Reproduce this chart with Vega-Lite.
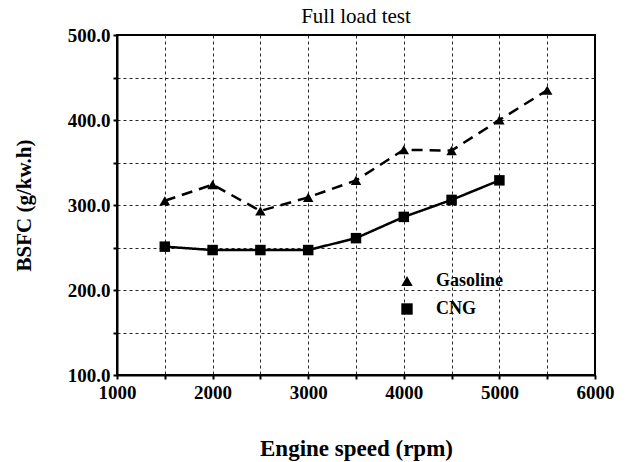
{
  "$schema": "https://vega.github.io/schema/vega-lite/v6.json",
  "autosize": "none",
  "width": 478,
  "height": 340,
  "padding": {"left": 117, "top": 35, "right": 36, "bottom": 87},
  "background": "white",
  "title": {"text": "Full load test", "font": "Liberation Serif", "fontSize": 21, "fontWeight": "normal", "color": "black", "anchor": "middle", "offset": -1},
  "config": {
    "view": {"stroke": "black", "strokeWidth": 2},
    "axis": {
      "domainColor": "black", "domainWidth": 2,
      "tickColor": "black", "tickWidth": 2, "tickSize": 4,
      "gridColor": "black", "gridDash": [3, 3], "gridWidth": 1, "gridOpacity": 0.85,
      "labelFont": "Liberation Serif", "labelFontSize": 19, "labelFontWeight": "bold", "labelColor": "black",
      "titleFont": "Liberation Serif", "titleFontWeight": "bold", "titleColor": "black",
      "labelOverlap": false, "labelFlush": false
    }
  },
  "data": {"values": [
    {"fuel": "Gasoline", "rpm": 1500, "bsfc": 305},
    {"fuel": "Gasoline", "rpm": 2000, "bsfc": 324},
    {"fuel": "Gasoline", "rpm": 2500, "bsfc": 293},
    {"fuel": "Gasoline", "rpm": 3000, "bsfc": 309},
    {"fuel": "Gasoline", "rpm": 3500, "bsfc": 329},
    {"fuel": "Gasoline", "rpm": 4000, "bsfc": 365},
    {"fuel": "Gasoline", "rpm": 4500, "bsfc": 364},
    {"fuel": "Gasoline", "rpm": 5000, "bsfc": 400},
    {"fuel": "Gasoline", "rpm": 5500, "bsfc": 435},
    {"fuel": "CNG", "rpm": 1500, "bsfc": 251},
    {"fuel": "CNG", "rpm": 2000, "bsfc": 247},
    {"fuel": "CNG", "rpm": 2500, "bsfc": 247},
    {"fuel": "CNG", "rpm": 3000, "bsfc": 247},
    {"fuel": "CNG", "rpm": 3500, "bsfc": 261},
    {"fuel": "CNG", "rpm": 4000, "bsfc": 286},
    {"fuel": "CNG", "rpm": 4500, "bsfc": 306},
    {"fuel": "CNG", "rpm": 5000, "bsfc": 329}
  ]},
  "encoding": {
    "x": {"field": "rpm", "type": "quantitative",
      "scale": {"domain": [1000, 6000], "nice": false},
      "axis": {"title": "Engine speed (rpm)", "titleFontSize": 23, "titlePadding": 35,
        "values": [1000, 1500, 2000, 2500, 3000, 3500, 4000, 4500, 5000, 5500, 6000],
        "labelExpr": "datum.value % 1000 === 0 ? format(datum.value, 'd') : ''", "labelPadding": 4}},
    "y": {"field": "bsfc", "type": "quantitative",
      "scale": {"domain": [100, 500], "nice": false, "zero": false},
      "axis": {"title": "BSFC (g/kw.h)", "titleFontSize": 21, "titlePadding": 33,
        "values": [100, 150, 200, 250, 300, 350, 400, 450, 500],
        "labelExpr": "datum.value % 100 === 0 ? format(datum.value, '.1f') : ''", "labelPadding": 3}}
  },
  "resolve": {"scale": {"shape": "independent"}, "legend": {"shape": "independent"}},
  "layer": [
    {
      "mark": {"type": "line", "color": "black", "strokeWidth": 2.5},
      "encoding": {
        "strokeDash": {"field": "fuel", "type": "nominal",
          "scale": {"domain": ["Gasoline", "CNG"], "range": [[11, 7], [1, 0]]}, "legend": null}
      }
    },
    {
      "mark": {"type": "point", "filled": true, "color": "black", "opacity": 1, "size": 110},
      "encoding": {
        "shape": {"field": "fuel", "type": "nominal",
          "scale": {"domain": ["Gasoline", "CNG"], "range": ["triangle-up", "square"]}, "legend": null}
      }
    },
    {
      "transform": [{"filter": "false"}],
      "mark": {"type": "point", "filled": true, "color": "black", "opacity": 1, "size": 400},
      "encoding": {
        "shape": {"field": "fuel", "type": "nominal",
          "scale": {"domain": ["Gasoline", "CNG"], "range": ["triangle-up", "square"]},
          "legend": {
            "title": null, "orient": "none", "legendX": 260, "legendY": 227,
            "padding": 10, "symbolOffset": 11, "labelOffset": 20, "rowPadding": 10,
            "symbolSize": 130, "symbolOpacity": 1, "symbolFillColor": "black", "symbolStrokeColor": "black", "symbolStrokeWidth": 1,
            "labelFont": "Liberation Serif", "labelFontSize": 18, "labelFontWeight": "bold", "labelColor": "black",
            "encode": {"legend": {"update": {"stroke": {"value": "black"}, "strokeWidth": {"value": 1.5}, "fill": {"value": "white"}}}}
          }
        }
      }
    }
  ]
}
